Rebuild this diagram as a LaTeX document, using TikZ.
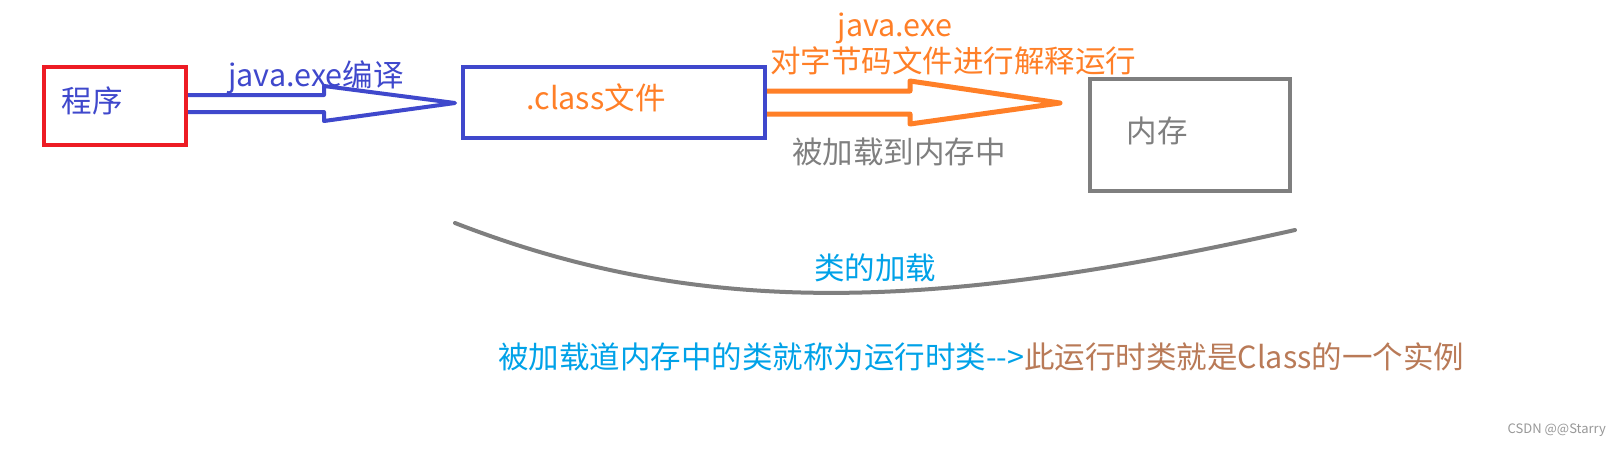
\documentclass[tikz,border=0pt]{standalone}
\usepackage{fontspec}
\setmainfont{Noto Sans CJK SC}
\usetikzlibrary{calc}
\definecolor{pblue}{HTML}{3F48CC}
\definecolor{pred}{HTML}{ED1C24}
\definecolor{porange}{HTML}{FF7F27}
\definecolor{pgray}{HTML}{7F7F7F}
\definecolor{lblue}{HTML}{00A2E8}
\definecolor{pbrown}{HTML}{B97A57}
\begin{document}
\begin{tikzpicture}[x=1pt,y=-1pt,
  box/.style={draw,line width=4pt,inner sep=0pt},
  txt/.style={font=\fontsize{30.5}{35}\selectfont,inner sep=0pt},
  blockarrow/.style={line join=round}]
\useasboundingbox[fill=white] (0,0) rectangle (1621,448);
% boxes
\node[box,draw=pred,minimum width=142pt,minimum height=78pt] (prog) at (115,106) {};
\node[box,draw=pblue,minimum width=302pt,minimum height=71pt] (cls) at (614,102.5) {};
\node[box,draw=pgray,minimum width=200pt,minimum height=112pt] (mem) at (1190,135) {};
% box texts
\node[txt,text=pblue] (progt) at (92,101) {程序};
\node[txt,text=porange] (clst) at (596,98) {.class文件};
\node[txt,text=pgray] (memt) at (1157,131) {内存};
% arrow 1
\coordinate (t1) at (455,103);
\draw[blockarrow,pblue,line width=4pt] (prog.east |- 0,95) -- (324,95) -- (324,86) -- (t1) -- (324,121) -- (324,112) -- (prog.east |- 0,112);
\node[txt,text=pblue] (l1) at (316,77) {java.exe编译};
% arrow 2
\coordinate (t2) at (1060,103);
\draw[blockarrow,porange,line width=5pt] (cls.east |- 0,91) -- (910,91) -- (910,81) -- (t2) -- (910,124) -- (910,114) -- (cls.east |- 0,114);
\node[txt,text=porange] (l2a) at (895,28) {java.exe};
\node[txt,text=porange] (l2b) at (953,61) {对字节码文件进行解释运行};
\node[txt,text=pgray] (l2c) at (899,152) {被加载到内存中};
% curve
\coordinate (c1) at (455,223);
\coordinate (c2) at (1295,230);
\draw[pgray,line width=4pt,line cap=round] (c1) .. controls (700,318) and (930,312) .. (c2);
\node[txt,text=lblue] (lc) at (875,268) {类的加载};
% bottom text
\node[txt,anchor=west] (bt) at (498,357) {\textcolor{lblue}{被加载道内存中的类就称为运行时类{-}{-}>}\textcolor{pbrown}{此运行时类就是Class的一个实例}};
% watermark
\node[font=\fontsize{13}{15}\selectfont,text=pgray!80,anchor=east,inner sep=0pt] (wm) at (1606,430) {CSDN @@Starry};
\end{tikzpicture}
\end{document}
